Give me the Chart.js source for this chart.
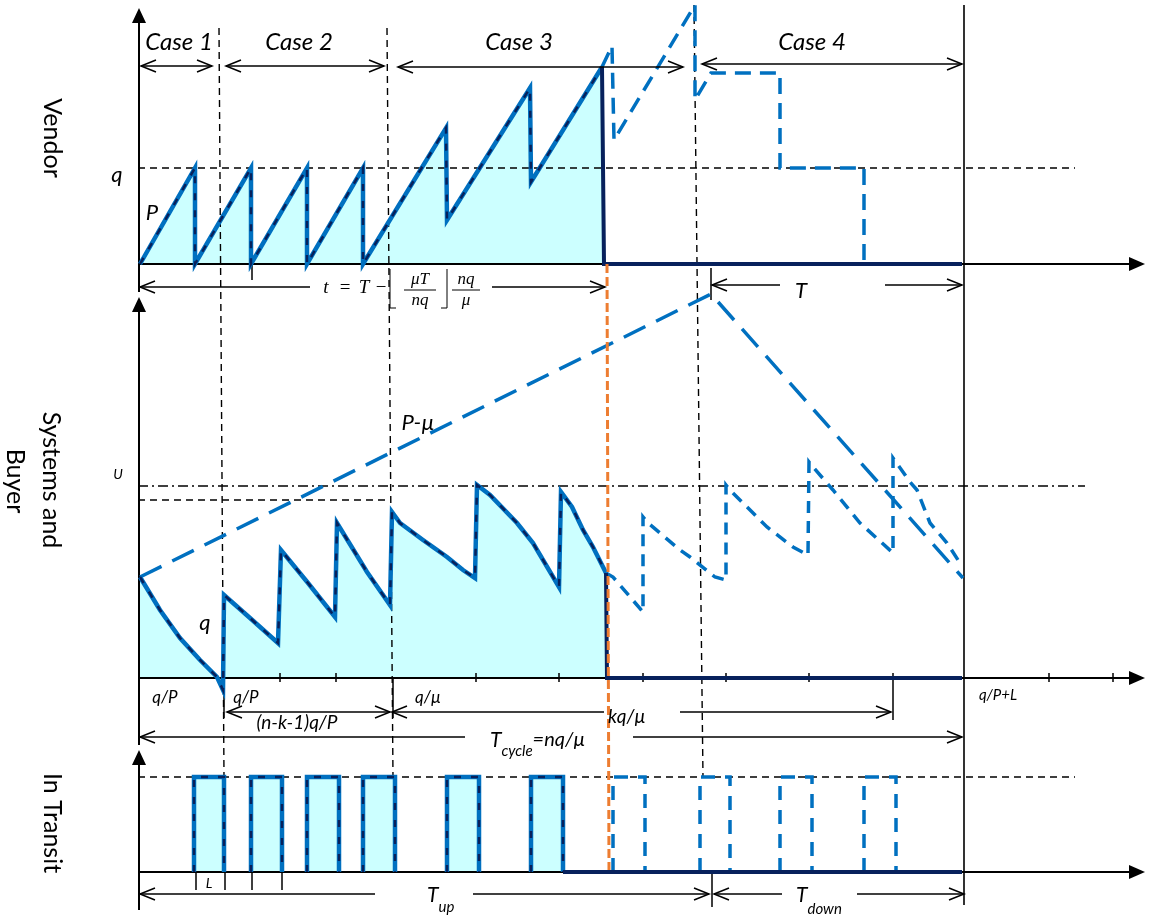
<!DOCTYPE html>
<html>
<head>
<meta charset="utf-8">
<script src="https://cdn.jsdelivr.net/npm/chart.js@4.4.1/dist/chart.umd.min.js"></script>
<style>
  html, body { margin: 0; padding: 0; background: #fff; }
  #wrap { width: 1160px; height: 917px; position: relative; }
</style>
</head>
<body>
<div id="wrap"><canvas id="chart"></canvas></div>
<script>
// time t = 0 at the panels' origin, every level measured from its own panel baseline
const NAVY = '#07215c', BLUE = '#0070c0', FILL = '#ccffff', ORANGE = '#ed7d31';

// Vendor panel
const vendorSaw = [[1,0],[56,96],[56,0],[112,96],[112,0],[168,96],[168,0],[224,96],[224,0],[307,136],[308,44],[391,176],[392,82],[463,197]];
const vendorDrop = [[463,197],[465,0],[823,0]];
const vendorAfter = [[463,197],[473,218],[475,124],[556,259],[556,164],[572,191],[641,191],[641,96],[725,96],[725,0]];
const vendorQ = 96;

// Systems and buyer panel
const buyerSaw = [[1,101],[21,68],[41,40],[61,18],[78,1],[84,-12],[85,83],[111,60],[139,35],[142,128],[169,95],[196,61],[198,155],[228,106],[251,73],[253,166],[261,155],[284,138],[308,121],[324,108],[336,100],[338,193],[351,183],[378,155],[394,135],[420,91],[422,186],[433,171],[444,148],[454,131],[467,105]];
const buyerDrop = [[467,105],[468,0],[823,0]];
const buyerAfter = [[467,105],[474,101],[504,66],[504,161],[508,156],[541,128],[551,121],[576,101],[587,98],[587,193],[591,188],[628,151],[654,131],[669,123],[670,216],[674,211],[694,188],[721,155],[754,125],[754,220],[771,196],[778,188],[791,155],[808,135],[819,118]];
const pMinusMu = [[1,101],[572,384],[824,100]];
const buyerU = 192;
const buyerCap = 178;
const buyerTicks = [141,197,337,420,504,587,670,910,974];

// In transit panel
const transitUp = [[55,85],[112,143],[168,200],[224,256],[308,340],[392,424]];
const transitDown = [[474,506],[561,591],[641,673],[725,757]];
const transitQ = 95;
const transitBase = [[424,0],[823,0]];
const transitTicks = [57,86,113,143];

// lines crossing the panels (vendor levels)
const caseEdges = [[[80,236],[85,-514]], [[248,236],[254,-514]], [[555,259],[564,-514]]];
const orangeLine = [[468,0],[470,-606]];
const endLine = [[825,259],[825,-641]];

const panels = ['yV', 'yB', 'yT'];
const panelBase = [264, 678, 872];
const axisTip = [256, 381, 122];
const axisBottom = [-28, -67, -38];
const timeEnd = 1006;

// dimension arrows: panel, level, from, to, head at start, head at end
const dimArrows = [
  ['yV',198,2,73,1,1], ['yV',198,87,245,1,1], ['yV',197,259,544,1,1], ['yV',200,563,823,1,1],
  ['yV',-23,1,171,1,0], ['yV',-23,353,466,0,1],
  ['yV',-21,573,641,1,0], ['yV',-21,746,823,0,1],
  ['yB',-34,88,251,1,1], ['yB',-34,253,465,1,0], ['yB',-34,541,752,0,1],
  ['yB',-59,1,326,1,0], ['yB',-59,494,823,0,1],
  ['yT',-22,1,236,1,0], ['yT',-22,334,570,0,1],
  ['yT',-22,575,643,1,0], ['yT',-22,718,825,0,1]
];

const labels = [
  ['Case 1','yV',40,222,'case'], ['Case 2','yV',160,222,'case'],
  ['Case 3','yV',380,222,'case'], ['Case 4','yV',673,222,'case'],
  ['q','yV',-22,89,'sym'], ['P','yV',13,51,'sym'], ['T','yV',662,-27,'sym'],
  ['U','yB',-21,204,'tiny'], ['P-\u00b5','yB',279,255,'sym'], ['q','yB',66,55,'sym'],
  ['q/P','yB',26,-20,'small'], ['q/P','yB',107,-20,'small'], ['q/\u00b5','yB',289,-20,'small'],
  ['(n-k-1)q/P','yB',158,-45,'mid'], ['kq/\u00b5','yB',488,-39,'mid'],
  ['q/P+L','yB',859,-17,'tiny2'], ['L','yT',70,-11,'tiny']
];
const sideLabels = [['Vendor','yV',-87,126], ['Systems and','yB',-88,198], ['Buyer','yB',-124,197], ['In Transit','yT',-87,49]];
const subLabels = [
  ['yB',351,-62,[['T',21,0],['cycle',15,11],['=nq/\u00b5',20,0]]],
  ['yT',288,-23,[['T',21,0],['up',15,12]]],
  ['yT',657,-23,[['T',21,0],['down',15,14]]]
];
const formulaText = [['t',187],['=',206],['T',225],['\u2212',242]];
const fractions = [['\u03bcT','nq',281,16],['nq','\u03bc',327,14]];
const floorMarks = [[251,6],[308,-6]];

const fonts = {
  case: 'italic 24px Lato', sym: 'italic 22px Lato', small: 'italic 17px Lato',
  mid: 'italic 19px Lato', tiny: 'italic 14px Lato', tiny2: 'italic 15px Lato', side: '25px Lato'
};

function gapJoin(parts) {
  const out = [];
  parts.forEach(function(p, i) {
    if (i > 0) out.push([p[0][0], null]);
    p.forEach(function(pt) { out.push(pt); });
  });
  return out;
}
function boxes(spans, top) {
  return gapJoin(spans.map(function(s) { return [[s[0],0],[s[0],top],[s[1],top],[s[1],0]]; }));
}
function mk(data, axis, color, width, dash, extra) {
  return Object.assign({
    data: data, yAxisID: axis, borderColor: color, borderWidth: width, borderDash: dash || [],
    showLine: true, pointRadius: 0, fill: false, tension: 0, borderCapStyle: 'butt'
  }, extra || {});
}

const ds = [];
// guides
ds.push(mk([[-1,vendorQ],[936,vendorQ]], 'yV', '#000', 1.4, [7,5]));
ds.push(mk([[-1,transitQ],[936,transitQ]], 'yT', '#000', 1.4, [7,5]));
ds.push(mk([[-1,buyerU],[946,buyerU]], 'yB', '#000', 1.4, [10,4,2,4]));
ds.push(mk([[-1,buyerCap],[251,buyerCap]], 'yB', '#000', 1.4, [7,5]));
caseEdges.forEach(function(e) { ds.push(mk(e, 'yV', '#000', 1.4, [7,5])); });
ds.push(mk(endLine, 'yV', '#000', 1.6));
// axes
panels.forEach(function(p, i) {
  ds.push(mk([[0,axisBottom[i]],[0,axisTip[i]-8]], p, '#000', 2));
  ds.push(mk([[0,0],[timeEnd-8,0]], p, '#000', 2));
});
// ticks and markers
ds.push(mk(gapJoin(buyerTicks.map(function(t) { return [[t,5],[t,-4]]; })), 'yB', '#000', 1.5));
ds.push(mk(gapJoin([[[85,0],[85,-40]], [[254,0],[254,-40]], [[754,5],[754,-42]]]), 'yB', '#000', 1.5));
ds.push(mk(gapJoin(transitTicks.map(function(t) { return [[t,0],[t,-18]]; })), 'yT', '#000', 1.5));
ds.push(mk([[573,0],[573,-35]], 'yT', '#000', 1.5));
ds.push(mk(gapJoin([[[113,0],[113,-16]], [[572,-4],[572,-36]]]), 'yV', '#000', 1.5));
// dashed projections
ds.push(mk(pMinusMu, 'yB', BLUE, 3.5, [24,12]));
ds.push(mk(vendorAfter, 'yV', BLUE, 3.5, [16,9]));
ds.push(mk(buyerAfter, 'yB', BLUE, 3.5, [12,8]));
ds.push(mk(boxes(transitDown, transitQ), 'yT', BLUE, 3.5, [14,10]));
// actual inventory
ds.push(mk(vendorSaw, 'yV', BLUE, 4.5, [], {fill: {value: 0}, backgroundColor: FILL}));
ds.push(mk(vendorSaw, 'yV', NAVY, 2.5, [7,10]));
ds.push(mk(vendorDrop, 'yV', NAVY, 4));
ds.push(mk(buyerSaw, 'yB', BLUE, 4.5, [], {fill: {value: 0}, backgroundColor: FILL}));
ds.push(mk(buyerSaw, 'yB', NAVY, 2.5, [7,10]));
ds.push(mk(buyerDrop, 'yB', NAVY, 4));
ds.push(mk(boxes(transitUp, transitQ), 'yT', BLUE, 4.5, [], {fill: {value: 0}, backgroundColor: FILL}));
ds.push(mk(boxes(transitUp, transitQ), 'yT', NAVY, 2.5, [7,10]));
ds.push(mk(transitBase, 'yT', NAVY, 4));
ds.push(mk(orangeLine, 'yV', ORANGE, 3, [9,4]));
// first pushed goes to the bottom
ds.forEach(function(d, i) { d.order = ds.length - i; });

const overlay = {
  id: 'overlay',
  afterDatasetsDraw(chart) {
    const c = chart.ctx, sx = chart.scales.x;
    const px = function(t) { return sx.getPixelForValue(t); };
    const py = function(a, v) { return chart.scales[a].getPixelForValue(v); };
    c.save();
    c.fillStyle = '#000';
    c.strokeStyle = '#000';

    // filled axis arrows
    panels.forEach(function(p, i) {
      const x0 = px(0), yt = py(p, axisTip[i]);
      c.beginPath(); c.moveTo(x0, yt); c.lineTo(x0 - 7, yt + 15); c.lineTo(x0 + 7, yt + 15); c.closePath(); c.fill();
      const xe = px(timeEnd), y0 = py(p, 0);
      c.beginPath(); c.moveTo(xe, y0); c.lineTo(xe - 16, y0 - 7); c.lineTo(xe - 16, y0 + 7); c.closePath(); c.fill();
    });

    // dimension arrows
    c.lineWidth = 1.5;
    dimArrows.forEach(function(a) {
      const y = py(a[0], a[1]), x1 = px(a[2]), x2 = px(a[3]);
      c.beginPath(); c.moveTo(x1, y); c.lineTo(x2, y); c.stroke();
      if (a[4]) { c.beginPath(); c.moveTo(x1 + 15, y - 6); c.lineTo(x1, y); c.lineTo(x1 + 15, y + 6); c.stroke(); }
      if (a[5]) { c.beginPath(); c.moveTo(x2 - 15, y - 6); c.lineTo(x2, y); c.lineTo(x2 - 15, y + 6); c.stroke(); }
    });

    // text
    c.textAlign = 'center';
    c.textBaseline = 'middle';
    labels.forEach(function(l) {
      c.font = fonts[l[4]];
      c.fillText(l[0], px(l[2]), py(l[1], l[3]));
    });
    sideLabels.forEach(function(l) {
      c.save();
      c.translate(px(l[2]), py(l[1], l[3]));
      c.rotate(Math.PI / 2);
      c.font = fonts.side;
      c.fillText(l[0], 0, 0);
      c.restore();
    });
    c.textAlign = 'left';
    subLabels.forEach(function(s) {
      let x = px(s[1]);
      const y = py(s[0], s[2]);
      s[3].forEach(function(piece) {
        c.font = 'italic ' + piece[1] + 'px Lato';
        c.fillText(piece[0], x, y + piece[2]);
        x += c.measureText(piece[0]).width;
      });
    });

    // t = T - floor(muT/nq) nq/mu
    c.textAlign = 'center';
    const fy = py('yV', -24);
    formulaText.forEach(function(f) {
      c.font = (f[0] === 't' || f[0] === 'T' ? 'italic ' : '') + '19px "Liberation Serif"';
      c.fillText(f[0], px(f[1]), fy);
    });
    c.font = 'italic 17px "Liberation Serif"';
    c.lineWidth = 1;
    fractions.forEach(function(f) {
      const xc = px(f[2]);
      c.fillText(f[0], xc, py('yV', -16));
      c.fillText(f[1], xc, py('yV', -37));
      c.beginPath(); c.moveTo(xc - f[3], py('yV', -26)); c.lineTo(xc + f[3], py('yV', -26)); c.stroke();
    });
    floorMarks.forEach(function(m) {
      const x = px(m[0]);
      c.beginPath(); c.moveTo(x, py('yV', -5)); c.lineTo(x, py('yV', -44)); c.lineTo(x + m[1], py('yV', -44)); c.stroke();
    });
    c.restore();
  }
};

new Chart(document.getElementById('chart').getContext('2d'), {
  type: 'scatter',
  data: { datasets: ds },
  options: {
    responsive: true,
    maintainAspectRatio: false,
    animation: false,
    events: [],
    layout: { padding: 0 },
    plugins: {
      legend: { display: false },
      tooltip: { enabled: false },
      filler: { drawTime: 'beforeDatasetsDraw' }
    },
    scales: {
      x: { type: 'linear', min: -139, max: 1021, display: false },
      y: { display: false },
      yV: { type: 'linear', min: panelBase[0] - 917, max: panelBase[0], display: false },
      yB: { type: 'linear', min: panelBase[1] - 917, max: panelBase[1], display: false },
      yT: { type: 'linear', min: panelBase[2] - 917, max: panelBase[2], display: false }
    }
  },
  plugins: [overlay]
});
</script>
</body>
</html>
